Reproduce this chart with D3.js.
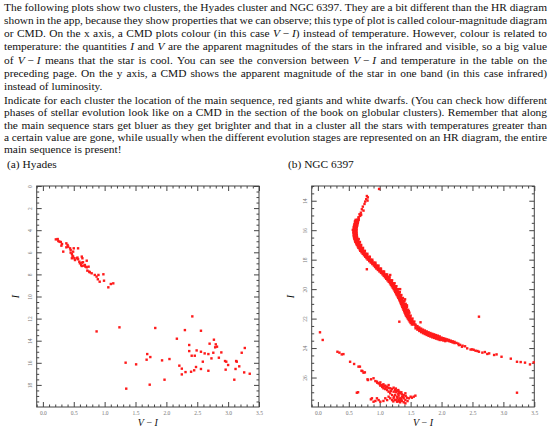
<!DOCTYPE html>
<html>
<head>
<meta charset="utf-8">
<script src="https://cdn.jsdelivr.net/npm/d3@7"></script>
<style>
  body { margin: 0; background: #fff; }
  svg { display: block; }
  .body { font-family: 'Liberation Serif', 'DejaVu Serif', serif; font-size: 11.4px; fill: #111; }
  .tick text { font-family: 'Liberation Serif', serif; font-size: 5.5px; fill: #777; }
  .tick line { stroke: #444; }
</style>
</head>
<body>
<script>
const width = 560
const height = 434

// printed lines of the two paragraphs, _x_ marks math italic
const para1 = [
  'The following plots show two clusters, the Hyades cluster and NGC 6397. They are a bit different than the HR diagram',
  'shown in the app, because they show properties that we can observe; this type of plot is called colour-magnitude diagram',
  'or CMD. On the x axis, a CMD plots colour (in this case _V_\u00a0\u2212\u00a0_I_) instead of temperature. However, colour is related to',
  'temperature: the quantities _I_ and _V_ are the apparent magnitudes of the stars in the infrared and visible, so a big value',
  'of _V_\u00a0\u2212\u00a0_I_ means that the star is cool. You can see the conversion between _V_\u00a0\u2212\u00a0_I_ and temperature in the table on the',
  'preceding page. On the y axis, a CMD shows the apparent magnitude of the star in one band (in this case infrared)',
  'instead of luminosity.'
]
const para2 = [
  'Indicate for each cluster the location of the main sequence, red giants and white dwarfs. (You can check how different',
  'phases of stellar evolution look like on a CMD in the section of the book on globular clusters). Remember that along',
  'the main sequence stars get bluer as they get brighter and that in a cluster all the stars with temperatures greater than',
  'a certain value are gone, while usually when the different evolution stages are represented on an HR diagram, the entire',
  'main sequence is present!'
]
const captions = ['(a) Hyades', '(b) NGC 6397']

// tick labels
const xTicks = [0, 0.5, 1, 1.5, 2, 2.5, 3, 3.5]
const xTickLabels = ['0.0', '0.5', '1.0', '1.5', '2.0', '2.5', '3.0', '3.5']
const hyadesYTicks = [0, 2, 4, 6, 8, 10, 12, 14, 16, 18]
const ngcYTicks = [14, 16, 18, 20, 22, 24, 26]

// Hyades stars [V-I, I]
const hyades = [
  [0.21, 4.83], [0.24, 4.80], [0.25, 4.98], [0.27, 5.04], [0.29, 5.07], [0.31, 5.25], [0.30, 5.40],
  [0.38, 5.19], [0.40, 5.34], [0.38, 5.55], [0.41, 5.49], [0.44, 5.64], [0.45, 5.79], [0.45, 6.03],
  [0.47, 6.15], [0.48, 6.33], [0.49, 6.39], [0.51, 6.54], [0.52, 6.70], [0.55, 6.54], [0.56, 6.48],
  [0.57, 6.63], [0.59, 6.85], [0.60, 7.00], [0.62, 7.15], [0.63, 7.24], [0.64, 6.54], [0.67, 7.21],
  [0.68, 7.15], [0.71, 6.76], [0.65, 6.90], [0.69, 7.30], [0.71, 7.36], [0.72, 7.66], [0.75, 7.75],
  [0.76, 7.81], [0.79, 7.90], [0.84, 8.05], [0.87, 8.20], [0.90, 8.05], [0.98, 7.99], [0.89, 8.44],
  [0.92, 8.66], [0.99, 8.57], [1.06, 9.17], [1.10, 8.87], [1.14, 8.81], [0.33, 5.94], [0.50, 5.64],
  [0.57, 5.64], [0.63, 6.39], [0.49, 5.94], [0.47, 6.54], [0.63, 6.94], [0.74, 7.30],
  [0.87, 13.16], [1.24, 12.79], [1.34, 15.99], [1.51, 16.14], [1.35, 18.34], [1.69, 15.21], [1.68, 15.72],
  [1.74, 15.48], [1.73, 17.98], [1.82, 12.85], [1.93, 15.78], [1.97, 17.53], [2.05, 15.66], [2.17, 13.82],
  [2.21, 16.26], [2.25, 16.53], [2.25, 17.05], [2.30, 13.04], [2.31, 16.84], [2.37, 14.39], [2.37, 14.94],
  [2.42, 11.80], [2.41, 15.36], [2.46, 15.36], [2.45, 16.68], [2.40, 16.81], [2.48, 16.38], [2.49, 14.88],
  [2.56, 13.10], [2.56, 15.00], [2.56, 16.56], [2.59, 15.90], [2.62, 15.15], [2.68, 16.72], [2.68, 15.21],
  [2.70, 14.27], [2.73, 15.60], [2.76, 15.09], [2.77, 13.91], [2.79, 14.60], [2.80, 14.33], [2.82, 14.54],
  [2.85, 15.54], [2.89, 15.06], [2.95, 15.84], [2.96, 16.62], [2.97, 15.90], [3.00, 16.20], [3.10, 17.53],
  [3.12, 16.56], [3.13, 15.84], [3.14, 15.90], [3.18, 16.32], [3.22, 15.09], [3.26, 16.87], [3.27, 14.66],
  [3.35, 16.99]
]

// NGC 6397 dense band, read row by row: [I, V-I ...]
const ngcBandRows = [
  [15.3, 0.61, 0.64, 0.66], [15.4, 0.60, 0.63, 0.65], [15.5, 0.60, 0.62, 0.645], [15.6, 0.59, 0.615, 0.64],
  [15.7, 0.585, 0.61, 0.635], [15.8, 0.58, 0.605, 0.63], [15.9, 0.58, 0.60, 0.625], [16.0, 0.575, 0.60, 0.625],
  [16.1, 0.575, 0.60, 0.625], [16.2, 0.575, 0.60, 0.625], [16.3, 0.58, 0.60, 0.63], [16.4, 0.58, 0.605, 0.63],
  [16.5, 0.585, 0.61, 0.635], [16.6, 0.59, 0.615, 0.64, 0.66], [16.7, 0.60, 0.625, 0.65],
  [16.8, 0.605, 0.635, 0.66, 0.68], [16.9, 0.62, 0.645, 0.67], [17.0, 0.63, 0.655, 0.68, 0.70],
  [17.1, 0.645, 0.67, 0.695], [17.2, 0.655, 0.68, 0.705, 0.73], [17.3, 0.675, 0.70, 0.725],
  [17.4, 0.685, 0.71, 0.735, 0.76], [17.5, 0.705, 0.73, 0.755], [17.6, 0.725, 0.75, 0.775, 0.80],
  [17.7, 0.745, 0.77, 0.795], [17.8, 0.765, 0.79, 0.815, 0.84], [17.9, 0.785, 0.81, 0.835],
  [18.0, 0.805, 0.83, 0.855, 0.88], [18.1, 0.83, 0.855, 0.88], [18.2, 0.855, 0.88, 0.905, 0.93],
  [18.3, 0.88, 0.905, 0.93], [18.4, 0.905, 0.93, 0.955, 0.98], [18.5, 0.925, 0.95, 0.975],
  [18.6, 0.945, 0.97, 0.995, 1.02], [18.7, 0.97, 0.995, 1.02], [18.8, 0.995, 1.02, 1.045, 1.07],
  [18.9, 1.02, 1.045, 1.07], [19.0, 1.045, 1.07, 1.095, 1.12], [19.1, 1.065, 1.09, 1.115],
  [19.2, 1.085, 1.11, 1.135, 1.16], [19.3, 1.105, 1.13, 1.155], [19.4, 1.125, 1.15, 1.175, 1.20],
  [19.5, 1.145, 1.17, 1.195], [19.6, 1.165, 1.19, 1.215, 1.24], [19.7, 1.18, 1.205, 1.23],
  [19.8, 1.195, 1.22, 1.245, 1.27], [19.9, 1.21, 1.235, 1.26], [20.0, 1.225, 1.25, 1.275, 1.30],
  [20.1, 1.24, 1.265, 1.29], [20.2, 1.25, 1.275, 1.30, 1.325], [20.3, 1.265, 1.29, 1.315],
  [20.4, 1.275, 1.30, 1.325, 1.35], [20.5, 1.29, 1.315, 1.34], [20.6, 1.30, 1.325, 1.35, 1.375],
  [20.7, 1.315, 1.34, 1.365], [20.8, 1.325, 1.35, 1.375, 1.40], [20.9, 1.335, 1.36, 1.385],
  [21.0, 1.345, 1.37, 1.395, 1.42], [21.1, 1.355, 1.38, 1.405], [21.2, 1.365, 1.39, 1.415, 1.44],
  [21.3, 1.375, 1.40, 1.425], [21.4, 1.385, 1.41, 1.435, 1.46], [21.5, 1.395, 1.42, 1.445],
  [21.6, 1.405, 1.43, 1.455, 1.48], [21.7, 1.415, 1.44, 1.465], [21.8, 1.425, 1.45, 1.475, 1.50],
  [21.9, 1.44, 1.465, 1.49], [22.0, 1.455, 1.48, 1.505, 1.53], [22.1, 1.47, 1.495, 1.52],
  [22.2, 1.485, 1.51, 1.535, 1.56], [22.3, 1.50, 1.525, 1.55], [22.4, 1.52, 1.545, 1.57]
]
// NGC 6397 band where it turns flat, read column by column: [V-I, I ...]
const ngcBandCols = [
  [1.58, 22.42, 22.54, 22.66], [1.61, 22.51, 22.63, 22.75], [1.64, 22.60, 22.72, 22.84],
  [1.67, 22.68, 22.80, 22.92], [1.70, 22.75, 22.87, 22.99], [1.73, 22.81, 22.93, 23.05],
  [1.76, 22.87, 22.99, 23.11], [1.79, 22.93, 23.05, 23.17], [1.82, 22.98, 23.10, 23.22],
  [1.85, 23.03, 23.15, 23.27], [1.88, 23.07, 23.19, 23.31], [1.91, 23.12, 23.24, 23.36],
  [1.94, 23.16, 23.28, 23.40], [1.97, 23.21, 23.33, 23.45], [2.00, 23.29, 23.37, 23.45],
  [2.03, 23.33, 23.41, 23.49], [2.06, 23.37, 23.45, 23.53], [2.09, 23.41, 23.49], [2.12, 23.45, 23.53],
  [2.15, 23.50, 23.57], [2.18, 23.54, 23.62], [2.21, 23.58, 23.66], [2.24, 23.65], [2.27, 23.70],
  [2.30, 23.78], [2.34, 23.84], [2.38, 23.88]
]
// NGC 6397 single stars [V-I, I]
const ngcStars = [
  [0.99, 13.20], [0.792, 13.68], [0.808, 13.77], [0.781, 13.90], [0.765, 14.06], [0.803, 13.99], [0.754, 14.22],
  [0.727, 14.40], [0.711, 14.58], [0.738, 14.67], [0.695, 14.81], [0.673, 14.92], [0.684, 15.03], [0.657, 15.12],
  [0.63, 15.30], [0.646, 15.49], [0.608, 15.58], [0.565, 15.98], [0.70, 14.95], [0.66, 15.20],
  [0.792, 18.65], [1.144, 19.15], [1.17, 19.04], [1.24, 19.80], [1.33, 20.00], [1.41, 20.69], [1.44, 21.10],
  [1.47, 21.50], [1.317, 22.21], [1.66, 22.25],
  [2.28, 23.80], [2.33, 23.91], [2.415, 24.02], [2.47, 24.10], [2.496, 24.09], [2.52, 24.12], [2.55, 24.18],
  [2.58, 24.20], [2.605, 24.25], [2.66, 24.31], [2.70, 24.27], [2.74, 24.40], [2.77, 24.36], [2.85, 24.47],
  [2.89, 24.43], [2.97, 24.59], [3.12, 24.72], [3.22, 24.93], [3.28, 24.95], [3.35, 24.99], [3.43, 25.11],
  [3.49, 24.97], [2.605, 21.87], [3.22, 27.03],
  [0.034, 22.93], [0.078, 23.45], [0.316, 24.25], [0.348, 24.31], [0.386, 24.43], [0.413, 24.41],
  [0.521, 24.93], [0.586, 25.08], [0.657, 25.26], [0.705, 25.54], [0.738, 25.67], [0.803, 26.12],
  [0.63, 27.03], [0.857, 27.48],
  [0.68, 25.26], [0.72, 25.56], [0.76, 25.65], [0.81, 26.17], [0.86, 26.12], [0.90, 26.05], [0.93, 26.24],
  [0.955, 26.28], [0.98, 26.39], [1.01, 26.33], [1.04, 26.51], [1.06, 26.46], [1.09, 26.55], [1.12, 26.62],
  [1.144, 26.51], [1.17, 26.73], [1.20, 26.78], [1.225, 26.69], [1.25, 26.85], [1.28, 26.91], [1.306, 26.96],
  [1.33, 27.07], [1.36, 27.14], [1.388, 27.19], [1.415, 27.07], [1.225, 26.96], [1.144, 26.96], [1.12, 26.85],
  [1.09, 26.78], [1.06, 26.73], [1.04, 26.64], [1.01, 26.55], [1.17, 27.07], [1.20, 27.19], [1.25, 27.19],
  [1.28, 27.30], [1.306, 27.23], [1.33, 27.41], [1.36, 27.30], [1.388, 27.41], [1.415, 27.53], [1.44, 27.37],
  [1.47, 27.41], [1.50, 27.30], [1.52, 27.37], [1.55, 27.30], [1.577, 27.23], [1.144, 27.30], [1.17, 27.41],
  [1.12, 27.53], [1.09, 27.41], [1.06, 27.59], [1.01, 27.64], [0.982, 27.53], [0.955, 27.41], [0.93, 27.59],
  [0.90, 27.64], [0.874, 27.41], [1.25, 27.53], [1.28, 27.64], [1.306, 27.53], [1.33, 27.68], [1.36, 27.59],
  [1.225, 27.41], [1.20, 27.53], [1.388, 27.68], [1.415, 27.75], [0.65, 27.00],
  [1.26, 27.00], [1.30, 27.10], [1.32, 26.98], [1.35, 27.00], [1.38, 27.30], [1.29, 27.40], [1.27, 27.50],
  [1.34, 27.55], [1.31, 27.62], [1.22, 27.62], [1.18, 26.90], [1.14, 26.70], [1.10, 26.68], [1.07, 26.60],
  [1.00, 26.45], [0.96, 26.35], [1.23, 27.30], [1.35, 27.45], [1.42, 27.25], [1.45, 27.60], [1.30, 26.85],
  [1.26, 26.75]
]

const ngcBand = ngcBandRows.flatMap(([mag, ...cols]) => cols.map((c) => [c, mag]))
  .concat(ngcBandCols.flatMap(([col, ...mags]) => mags.map((m) => [col, m])))

let svg = d3.select('body').append('svg')
  .attr('width', width)
  .attr('height', height)

const textLeft = 4
const textRight = 547

// writes a string into a text element, switching to italic between underscores
function fillText (t, s) {
  s.split('_').forEach((part, i) => {
    if (part) t.append('tspan').attr('font-style', i % 2 ? 'italic' : null).text(part)
  })
}

// one justified line, word by word
function setLine (line, y, justify) {
  const words = line.split(' ')
  const nodes = words.map((w) => {
    const t = svg.append('text').attr('class', 'body').attr('y', y)
    fillText(t, w)
    return t
  })
  const widths = nodes.map((t) => t.node().getComputedTextLength())
  const gap = justify ? (textRight - textLeft - d3.sum(widths)) / (words.length - 1) : 2.9
  let cx = textLeft
  nodes.forEach((t, i) => {
    t.attr('x', cx)
    cx += widths[i] + gap
  })
}

para1.forEach((line, i) => setLine(line, 10.5 + i * 13.3, i < para1.length - 1))
para2.forEach((line, i) => setLine(line, 104 + i * 12.3, i < para2.length - 1))

svg.append('text').attr('class', 'body').attr('x', 7).attr('y', 168).text(captions[0])
svg.append('text').attr('class', 'body').attr('x', 288).attr('y', 168).text(captions[1])

const plotTop = 186
const plotBottom = 407

function drawPlot (data, left, right, yDomain, yTicks) {
  const x = d3.scaleLinear().domain([-0.1, 3.5]).range([left, right])
  const y = d3.scaleLinear().domain(yDomain).range([plotTop, plotBottom])
  const g = svg.append('g')

  const xMinor = d3.range(-0.1, 3.51, 0.1).filter((d) => Math.abs(d * 2 - Math.round(d * 2)) > 0.01)
  const yMinor = d3.range(yDomain[0], yDomain[1] + 0.01, 0.5).filter((d) => d % 2 !== 0)

  const axes = [
    [d3.axisBottom(x).tickValues(xTicks).tickSize(-5).tickPadding(4.5).tickFormat((d, i) => xTickLabels[i]), plotBottom, 0],
    [d3.axisBottom(x).tickValues(xMinor).tickSize(-2.5).tickFormat(''), plotBottom, 0],
    [d3.axisTop(x).tickValues(xTicks).tickSize(-5).tickFormat(''), plotTop, 0],
    [d3.axisTop(x).tickValues(xMinor).tickSize(-2.5).tickFormat(''), plotTop, 0],
    [d3.axisRight(y).tickValues(yTicks).tickSize(-5).tickFormat(''), 0, right],
    [d3.axisRight(y).tickValues(yMinor).tickSize(-2.5).tickFormat(''), 0, right],
    [d3.axisLeft(y).tickValues(yMinor).tickSize(-2.5).tickFormat(''), 0, left]
  ]
  axes.forEach(([axis, ty, tx]) => {
    g.append('g').attr('transform', `translate(${tx},${ty})`).call(axis)
      .call((a) => a.select('.domain').remove())
  })

  // left axis with rotated labels
  g.append('g').attr('transform', `translate(${left},0)`)
    .call(d3.axisLeft(y).tickValues(yTicks).tickSize(-5).tickFormat(d3.format('d')))
    .call((a) => a.select('.domain').remove())
    .selectAll('text')
    .attr('x', 0)
    .attr('dy', 0)
    .attr('text-anchor', 'middle')
    .attr('transform', 'translate(-4.7,0) rotate(-90)')

  g.append('rect')
    .attr('x', left)
    .attr('y', plotTop)
    .attr('width', right - left)
    .attr('height', plotBottom - plotTop)
    .attr('fill', 'none')
    .attr('stroke', '#444')

  g.append('g').selectAll('rect')
    .data(data)
    .enter()
    .append('rect')
    .attr('x', (d) => x(d[0]) - 1.2)
    .attr('y', (d) => y(d[1]) - 1.2)
    .attr('width', 2.4)
    .attr('height', 2.4)
    .attr('fill', '#ff1a1a')

  const xl = svg.append('text').attr('class', 'body').style('font-size', '10px')
    .attr('x', (left + right) / 2).attr('y', 426).attr('text-anchor', 'middle')
  fillText(xl, '_V_\u00a0\u2212\u00a0_I_')

  svg.append('text').attr('class', 'body').style('font-size', '10px').style('font-style', 'italic')
    .attr('text-anchor', 'middle')
    .attr('transform', `translate(${left - 17.5},${(plotTop + plotBottom) / 2}) rotate(-90)`)
    .text('I')
}

drawPlot(hyades, 36.7, 259, [0, 20], hyadesYTicks)
drawPlot(ngcBand.concat(ngcStars), 311.7, 534.3, [13, 28], ngcYTicks)
</script>
</body>
</html>
